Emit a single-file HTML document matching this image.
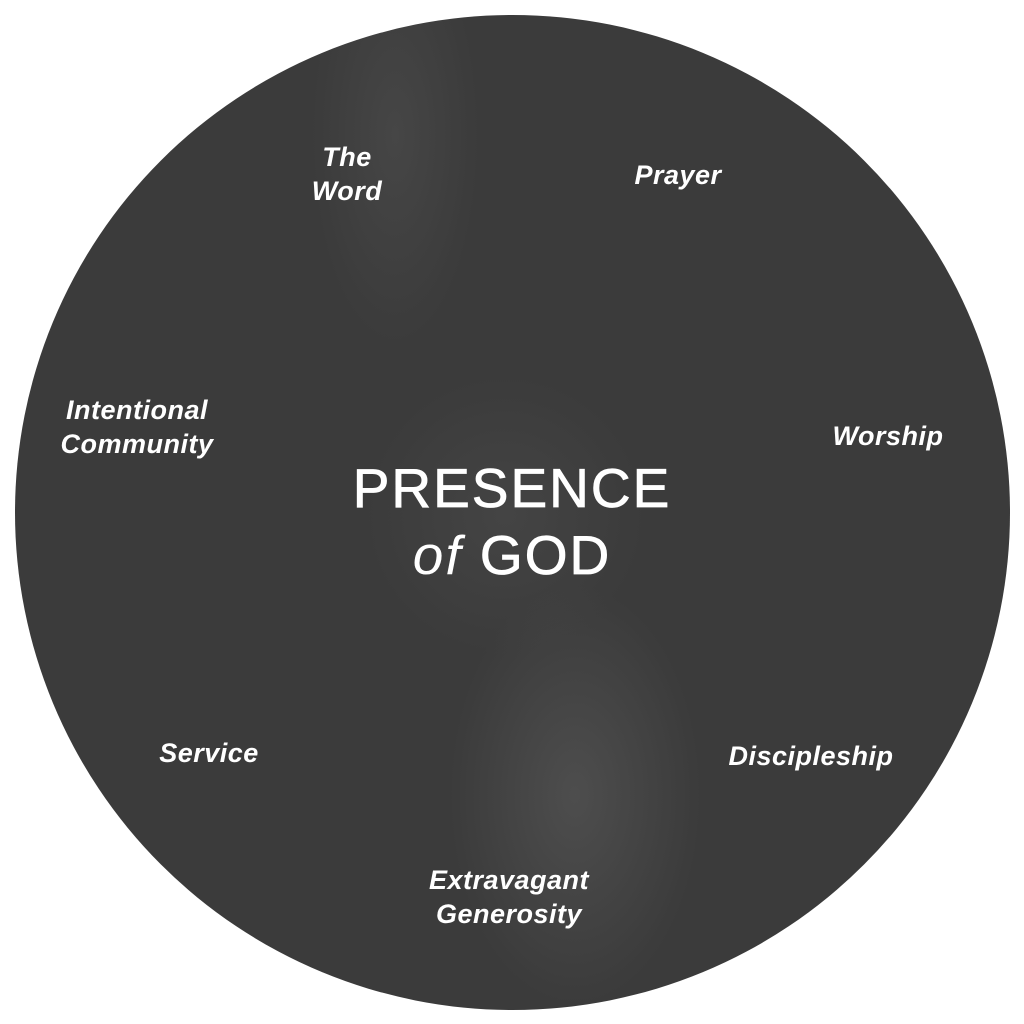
<!DOCTYPE html>
<html><head><meta charset="utf-8"><style>
html,body{margin:0;padding:0;background:#fff;width:1024px;height:1024px;overflow:hidden}
.c{position:absolute;left:15px;top:15px;width:995px;height:995px;border-radius:50%;
background:
radial-gradient(ellipse 180px 300px at 560px 780px, rgba(105,105,105,.4), rgba(105,105,105,0) 70%),
radial-gradient(ellipse 120px 300px at 380px 120px, rgba(95,95,95,.3), rgba(95,95,95,0) 70%),
radial-gradient(ellipse 200px 200px at 490px 500px, rgba(85,85,85,.35), rgba(85,85,85,0) 70%),
#3b3b3b;}
.t{position:absolute;color:#fff;font-family:"Liberation Sans",sans-serif;font-weight:bold;font-style:italic;font-size:27px;line-height:34px;letter-spacing:0.5px;text-align:center;transform:translateX(-50%);white-space:nowrap}
.m{position:absolute;color:#fff;font-family:"Liberation Sans",sans-serif;font-size:55px;letter-spacing:2px;text-align:center;left:0;width:1024px;line-height:60px;-webkit-text-stroke:0.8px #fff}
</style></head><body>
<div class="c"></div>
<div class="t" style="left:347px;top:140px">The<br>Word</div>
<div class="t" style="left:678px;top:158px">Prayer</div>
<div class="t" style="left:137px;top:393px">Intentional<br>Community</div>
<div class="t" style="left:888px;top:419px">Worship</div>
<div class="t" style="left:209px;top:736px">Service</div>
<div class="t" style="left:811px;top:739px">Discipleship</div>
<div class="t" style="left:509px;top:863px">Extravagant<br>Generosity</div>
<div class="m" style="top:458px">PRESENCE</div>
<div class="m" style="top:525px"><i style="font-weight:normal;-webkit-text-stroke:0">of</i> GOD</div>
</body></html>
